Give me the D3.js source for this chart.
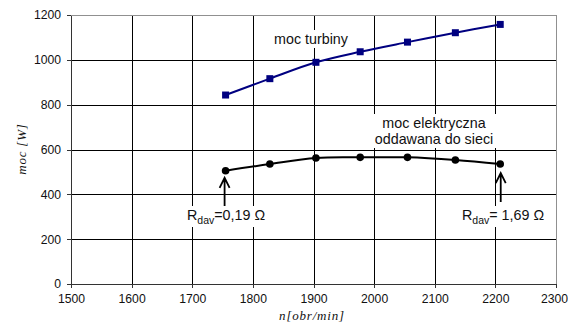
<!DOCTYPE html>
<html><head><meta charset="utf-8">
<script src="https://cdn.jsdelivr.net/npm/d3@7"></script>
<style>
html,body{margin:0;padding:0;background:#fff;}
svg{display:block;font-family:"Liberation Sans",Arial,sans-serif;}
</style></head>
<body><svg id="c" width="568" height="327"></svg>
<script>
const rpm = [1755, 1828, 1904, 1977, 2055, 2134, 2208];
const turbinePower = [843, 916, 989, 1036, 1079, 1121, 1158];
const electricPower = [505, 535, 562, 565, 565, 553, 535];
const xTicks = [1500,1600,1700,1800,1900,2000,2100,2200,2300];
const yTicks = [0,200,400,600,800,1000,1200];
const xTitle = "n[obr/min]";
const yTitle = "moc [W]";
const turbineLabel = ["moc turbiny"];
const electricLabel = ["moc elektryczna", "oddawana do sieci"];
const leftR = {sub:"dav", rest:"=0,19 Ω"};
const rightR = {sub:"dav", rest:"= 1,69 Ω"};

const svg = d3.select("#c");
const x = d3.scaleLinear().domain([1500,2300]).range([71,556]);
const y = d3.scaleLinear().domain([0,1200]).range([284,15]);

// gridlines
const g = svg.append("g");
g.selectAll(".vg").data(xTicks.slice(1,-1)).join("line")
  .attr("x1",d=>x(d)+0.5).attr("x2",d=>x(d)+0.5).attr("y1",y(1200)).attr("y2",y(0))
  .attr("stroke","#000").attr("stroke-width",1).attr("shape-rendering","crispEdges");
g.selectAll(".hg").data(yTicks.slice(1,-1)).join("line")
  .attr("y1",d=>Math.round(y(d))+0.5).attr("y2",d=>Math.round(y(d))+0.5).attr("x1",x(1500)).attr("x2",x(2300))
  .attr("stroke","#000").attr("stroke-width",1).attr("shape-rendering","crispEdges");
svg.append("path").attr("d",`M${x(1500)},${Math.round(y(1200))+0.5}H${Math.round(x(2300))+0.5}V${y(0)}`)
  .attr("fill","none").attr("stroke","#909090").attr("shape-rendering","crispEdges");

// axes
const xAxis = svg.append("g").attr("transform",`translate(0,${Math.round(y(0))})`)
  .call(d3.axisBottom(x).tickValues(xTicks).tickSize(4).tickSizeOuter(0).tickPadding(6).tickFormat(d3.format("d")));
const yAxis = svg.append("g").attr("transform",`translate(${Math.round(x(1500))},0)`)
  .call(d3.axisLeft(y).tickValues(yTicks).tickSize(4).tickSizeOuter(0).tickPadding(6).tickFormat(d3.format("d")));
[xAxis,yAxis].forEach(a=>{
  a.select(".domain").attr("stroke","#333").attr("shape-rendering","crispEdges");
  a.selectAll(".tick line").attr("stroke","#333").attr("shape-rendering","crispEdges");
  a.selectAll("text").attr("font-family","Liberation Sans, Arial, sans-serif").attr("font-size",12.2).attr("fill","#111");
});
xAxis.selectAll(".tick text").filter(d=>d===2300).attr("dx",-2);

function label(lines, cx, baseline, lh){
  const grp = svg.append("g");
  const rect = grp.append("rect").attr("fill","#fff");
  const t = grp.append("text").attr("text-anchor","middle").attr("font-size",14.3).attr("fill","#111");
  lines.forEach((l,i)=>t.append("tspan").attr("x",cx).attr("y",baseline+i*lh).text(l));
  const b = t.node().getBBox();
  rect.attr("x",b.x-3).attr("y",b.y-1).attr("width",b.width+6).attr("height",b.height+2);
}
label(turbineLabel, 311, 44, 16);
label(electricLabel, 434, 128, 16);

function rLabel(r, left, baseline){
  const grp = svg.append("g");
  const rect = grp.append("rect").attr("fill","#fff");
  const t = grp.append("text").attr("x",left).attr("y",baseline).attr("font-size",14.3).attr("fill","#111");
  t.append("tspan").text("R");
  t.append("tspan").attr("font-size",10.5).attr("dy",4).text(r.sub);
  t.append("tspan").attr("dy",-4).text(r.rest);
  const b = t.node().getBBox();
  rect.attr("x",b.x-3).attr("y",b.y-1).attr("width",b.width+6).attr("height",b.height+2);
}
rLabel(leftR, 187, 220);
rLabel(rightR, 462, 220);

const line = (vals)=>d3.line().x((d,i)=>x(rpm[i])).y(d=>y(d)).curve(d3.curveCatmullRom.alpha(0.5))(vals);
svg.append("path").attr("d",line(turbinePower)).attr("fill","none").attr("stroke","#000080").attr("stroke-width",2);
svg.selectAll(".sq").data(turbinePower).join("rect")
  .attr("x",(d,i)=>x(rpm[i])-3.5).attr("y",d=>y(d)-3.5).attr("width",7).attr("height",7).attr("fill","#000080");
svg.append("path").attr("d",line(electricPower)).attr("fill","none").attr("stroke","#000").attr("stroke-width",2);
svg.selectAll(".ci").data(electricPower).join("circle")
  .attr("cx",(d,i)=>x(rpm[i])).attr("cy",d=>y(d)).attr("r",3.8).attr("fill","#000");

function arrow(xv, tipY, bottomY){
  const p = d3.path();
  p.moveTo(xv, bottomY); p.lineTo(xv, tipY);
  p.moveTo(xv-5, tipY+10); p.lineTo(xv, tipY); p.lineTo(xv+5, tipY+10);
  svg.append("path").attr("d",p.toString()).attr("fill","none").attr("stroke","#000").attr("stroke-width",1.8);
}
const last = rpm.length-1;
arrow(x(rpm[0])-1, y(electricPower[0])+7, 206);
arrow(x(rpm[last])+0.5, y(electricPower[last])+9, 202);

svg.append("text").attr("x",312).attr("y",320).attr("text-anchor","middle")
  .attr("font-family","Liberation Serif, serif").attr("font-style","italic").attr("font-size",13).attr("letter-spacing",0.8).attr("fill","#111").text(xTitle);
svg.append("text").attr("transform",`translate(26,149) rotate(-90)`).attr("text-anchor","middle")
  .attr("font-family","Liberation Serif, serif").attr("font-style","italic").attr("font-size",13).attr("letter-spacing",0.8).attr("fill","#111").text(yTitle);
</script></body></html>
